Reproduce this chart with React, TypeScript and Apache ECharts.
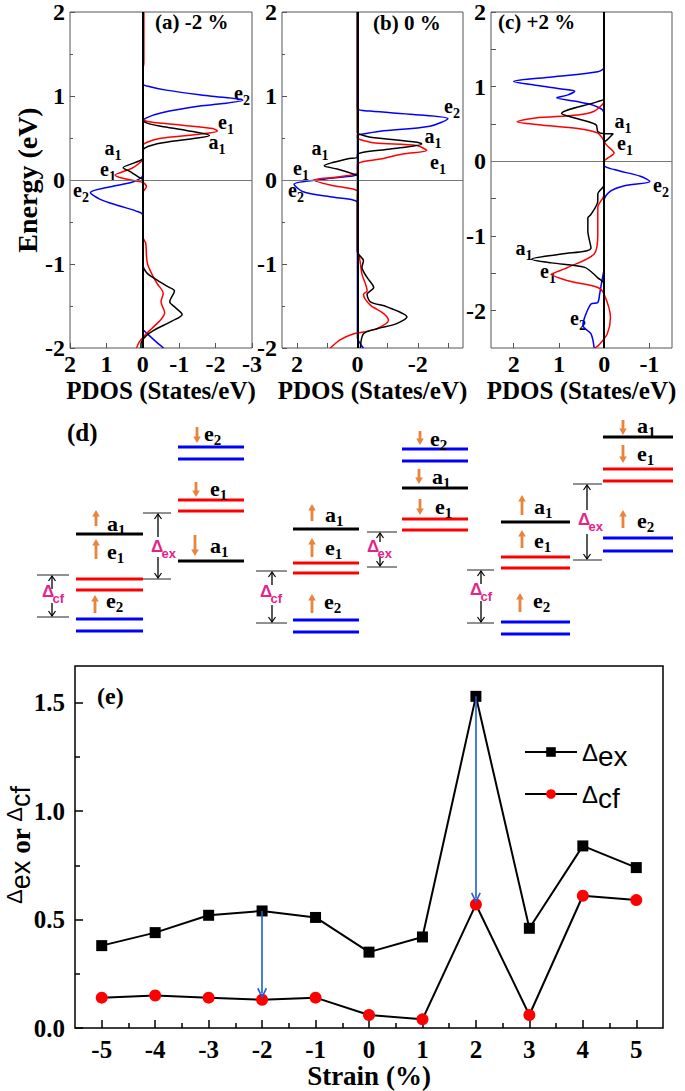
import React, { useEffect, useRef } from 'react';
import * as echarts from 'echarts';

const SERIF = 'Liberation Serif';
const SANS = 'Liberation Sans';
const BLUE = '#0000ff';
const RED = '#ff0000';
const BLACK = '#000000';
const ORANGE = '#e8843c';
const MAGENTA = '#e3238b';
const ARROW_BLUE = '#1a5fd6';
const FRAME = '#555555';

type P = [number, number];

// ---------- Panel (a): -2 % strain   [PDOS (states/eV), Energy (eV)]
const aBlue: P[] = [
  [0, 2.0], [0, 1.15], [-0.2, 1.11], [-0.64, 1.07], [-1.84, 1.0], [-2.75, 0.95], [-2.2, 0.91], [-1.56, 0.88], [-0.52, 0.8], [-0.1, 0.74], [0, 0.7],
  [0, 0.06], [0.26, -0.02], [0.89, -0.08], [1.44, -0.15], [1.17, -0.23], [0.63, -0.31], [0.18, -0.37], [0, -0.42],
  [0, -1.78], [-0.05, -1.8], [-0.3, -1.9], [-0.57, -2.0],
];
const aRed: P[] = [
  [-0.03, 2.0], [-0.03, 1.4], [0, 1.3], [0, 0.74], [-0.1, 0.7], [-0.83, 0.663], [-1.92, 0.612], [-2.05, 0.584], [-1.55, 0.545], [-0.46, 0.494], [-0.1, 0.447], [0, 0.408],
  [0, 0.25], [0.1, 0.2], [0.3, 0.14], [0.6, 0.09], [0.76, 0.06], [0.55, 0.02], [0.2, -0.01], [0, -0.03], [-0.1, -0.08], [0, -0.15],
  [0, -0.68], [-0.08, -0.75], [-0.1, -0.9], [-0.13, -1.0], [-0.25, -1.12], [-0.39, -1.23], [-0.56, -1.35], [-0.5, -1.45], [-0.6, -1.58], [-0.5, -1.66], [-0.24, -1.77], [-0.05, -1.85], [0.1, -1.93], [0.17, -2.0],
];
const aBlack: P[] = [
  [0, 2.0], [0, 0.72], [-0.1, 0.68], [-0.5, 0.64], [-1.2, 0.59], [-1.83, 0.53], [-1.5, 0.5], [-0.8, 0.46], [-0.3, 0.42], [-0.05, 0.38], [0, 0.34],
  [0, 0.26], [0.2, 0.21], [0.54, 0.145], [0.35, 0.1], [0.1, 0.03], [0, 0.0],
  [0, -1.0], [-0.1, -1.1], [-0.35, -1.18], [-0.69, -1.27], [-0.87, -1.32], [-0.74, -1.45], [-0.9, -1.52], [-1.08, -1.6], [-0.8, -1.68], [-0.3, -1.79], [-0.08, -1.86], [0.05, -1.95], [0.05, -2.0],
];

// ---------- Panel (b): 0 % strain
const bBlue: P[] = [
  [0, 2.0], [0, 0.85], [-0.43, 0.82], [-1.86, 0.78], [-3.0, 0.73], [-2.4, 0.64], [-0.76, 0.58], [-0.15, 0.545], [0, 0.53],
  [0, 0.07], [0.12, 0.05], [1.1, 0.01], [2.1, -0.05], [1.8, -0.14], [0.9, -0.2], [0.12, -0.24], [0, -0.27],
  [0, -1.88], [-0.1, -1.95], [-0.2, -2.0],
];
const bRed: P[] = [
  [0, 2.0], [0, 0.5], [-0.1, 0.48], [-0.6, 0.44], [-1.97, 0.41], [-2.3, 0.35], [-1.5, 0.31], [-0.76, 0.25], [-0.1, 0.21], [0, 0.18],
  [0, 0.09], [0.07, 0.07], [0.67, 0.035], [1.44, 0.0], [0.9, -0.06], [0.12, -0.11], [-0.02, -0.14], [0, -0.18],
  [0, -0.85], [-0.05, -0.89], [-0.1, -1.0], [-0.15, -1.12], [-0.32, -1.32], [-0.2, -1.36], [-0.43, -1.49], [-0.87, -1.59], [-1.03, -1.67], [-0.65, -1.77], [-0.2, -1.81], [0.12, -1.83], [0.56, -1.9], [0.9, -2.0],
];
const bBlack: P[] = [
  [0, 2.0], [0, 0.56], [-0.1, 0.54], [-0.43, 0.51], [-1.97, 0.45], [-2.13, 0.43], [-1.09, 0.37], [-0.2, 0.33], [0, 0.3],
  [0, 0.27], [0.34, 0.25], [1.1, 0.17], [0.67, 0.13], [0.12, 0.07], [0, 0.05],
  [0, -0.85], [-0.05, -0.89], [-0.2, -0.96], [-0.15, -1.04], [-0.32, -1.16], [-0.54, -1.28], [-0.32, -1.36], [-0.43, -1.45], [-0.98, -1.51], [-1.64, -1.63], [-1.3, -1.71], [-0.65, -1.77], [-0.2, -1.83], [-0.1, -2.0],
];

// ---------- Panel (c): +2 % strain
const cBlue: P[] = [
  [0, 2.0], [0, 1.26], [0.14, 1.2], [1.16, 1.13], [2.0, 1.07], [1.52, 1.02], [0.94, 0.97], [0.65, 0.94], [0.8, 0.89], [1.05, 0.85], [0.6, 0.8], [0.29, 0.76], [0.04, 0.69], [0, 0.6],
  [0, -0.05], [-0.22, -0.11], [-0.8, -0.2], [-1.01, -0.27], [-0.43, -0.33], [-0.14, -0.4], [0, -0.53],
  [0, -1.42], [0.05, -1.6], [0.1, -1.78], [0.14, -1.89], [0.29, -1.91], [0.43, -2.09], [0.47, -2.2], [0.29, -2.31], [0.22, -2.5],
];
const cRed: P[] = [
  [0, 2.0], [0, 0.8], [0.04, 0.76], [0.22, 0.67], [0.58, 0.62], [1.52, 0.58], [1.92, 0.53], [1.45, 0.49], [0.58, 0.44], [0.14, 0.38], [0.04, 0.31], [-0.05, 0.22], [-0.22, 0.11], [-0.07, 0.04], [0, 0.0],
  [0, -0.44], [0.14, -0.62], [0.14, -0.98], [0.22, -1.24], [0.8, -1.42], [1.09, -1.49], [1.16, -1.51], [0.8, -1.6], [0.14, -1.69], [0, -1.78], [-0.14, -2.09], [-0.07, -2.31], [0.1, -2.45], [0.2, -2.5],
];
const cBlack: P[] = [
  [0, 2.0], [0, 0.84], [0.14, 0.8], [0.94, 0.64], [0.65, 0.58], [0.18, 0.49], [0.14, 0.4], [0, 0.37], [-0.2, 0.37], [-0.07, 0.29], [0, 0.25],
  [0, -0.31], [0.14, -0.44], [0.14, -0.53], [0.29, -0.71], [0.36, -0.76], [0.36, -0.93], [0.29, -1.16], [0.94, -1.24], [1.6, -1.31], [1.16, -1.36], [0.43, -1.42], [0.14, -1.56], [0, -1.64], [0, -2.5],
];

// ---------- Panel (e)
const strain = [-5, -4, -3, -2, -1, 0, 1, 2, 3, 4, 5];
const deltaEx = [0.38, 0.44, 0.52, 0.54, 0.51, 0.35, 0.42, 1.53, 0.46, 0.84, 0.74];
const deltaCf = [0.14, 0.15, 0.14, 0.13, 0.14, 0.06, 0.04, 0.57, 0.06, 0.61, 0.59];
const strainMinor = [-4.5, -3.5, -2.5, -1.5, -0.5, 0.5, 1.5, 2.5, 3.5, 4.5];
const eTicks = [0, 0.5, 1.0, 1.5];
const eMinor = [0.25, 0.75, 1.25];

// ---------- helpers
const boldSerif = (size: number) => ({ fontFamily: SERIF, fontWeight: 'bold' as const, fontSize: size, color: '#000' });

const GLYPH_W: Record<string, number> = { a: 0.5, e: 0.444, 'Δ': 0.62 };

// main letter + subscript as two plain texts; (x,y) = left edge / glyph centre of main letter
function subPair(x: number, y: number, main: string, sub: string, size: number, subSize: number, color: string, family: string, subDy: number) {
  const w = (GLYPH_W[main] || 0.5) * size;
  return [
    { type: 'text', x, y: y - 2, silent: true, style: { text: main, align: 'left', verticalAlign: 'middle', fill: color, fontFamily: family, fontWeight: 'bold', fontSize: size } },
    { type: 'text', x: x + w, y: y + subDy, silent: true, style: { text: sub, align: 'left', verticalAlign: 'middle', fill: color, fontFamily: family, fontWeight: 'bold', fontSize: subSize } },
  ];
}
// centred curve label
function curveLabel(cx: number, cy: number, t: string) {
  const size = 20, subSize = 14;
  const total = (GLYPH_W[t[0]] || 0.5) * size + 0.5 * subSize;
  return subPair(cx - total / 2, cy - 2, t[0], t.slice(1), size, subSize, '#000', SERIF, 5);
}

function seg(x1: number, y1: number, x2: number, y2: number, color: string, w: number) {
  return { type: 'line', silent: true, shape: { x1, y1, x2, y2 }, style: { stroke: color, lineWidth: w } };
}
function orangeArrow(x: number, yTop: number, yBot: number, dir: string) {
  const hw = 1.4, hw2 = 3.8, hh = 6.5;
  const pts = dir === 'up'
    ? [[x - hw, yBot], [x + hw, yBot], [x + hw, yTop + hh], [x + hw2, yTop + hh], [x, yTop], [x - hw2, yTop + hh], [x - hw, yTop + hh]]
    : [[x - hw, yTop], [x + hw, yTop], [x + hw, yBot - hh], [x + hw2, yBot - hh], [x, yBot], [x - hw2, yBot - hh], [x - hw, yBot - hh]];
  return { type: 'polygon', silent: true, shape: { points: pts }, style: { fill: ORANGE } };
}

// level diagram (d): columns of levels, labels and brackets
const dLevels: [number, number, number, string][] = [
  [76, 143, 534, BLACK], [76, 143, 579, RED], [76, 143, 590, RED], [76, 143, 619, BLUE], [76, 143, 631, BLUE],
  [178, 244, 447, BLUE], [178, 244, 459, BLUE], [178, 244, 500, RED], [178, 244, 511, RED], [178, 244, 561, BLACK],
  [293, 359, 529, BLACK], [293, 359, 563, RED], [293, 359, 573, RED], [293, 359, 620, BLUE], [293, 359, 632, BLUE],
  [402, 468, 449, BLUE], [402, 468, 461, BLUE], [402, 468, 488, BLACK], [402, 468, 519, RED], [402, 468, 530, RED],
  [501, 570, 522, BLACK], [501, 570, 557, RED], [501, 570, 568, RED], [501, 570, 622, BLUE], [501, 570, 634, BLUE],
  [603, 673, 437, BLACK], [603, 673, 469, RED], [603, 673, 481, RED], [603, 673, 538, BLUE], [603, 673, 551, BLUE],
];
// [label, textX, textY, dir, arrowX, arrowTop, arrowBottom]
const dLabels: [string, number, number, string, number, number, number][] = [
  ['a1', 107, 525, 'up', 96, 510, 526], ['e1', 107, 553, 'up', 96, 539, 559], ['e2', 106, 602, 'up', 95, 595, 613],
  ['e2', 204, 435, 'down', 197, 427, 443], ['e1', 210, 490, 'down', 196, 482, 497], ['a1', 210, 547, 'down', 195, 535, 556],
  ['a1', 325, 516, 'up', 312, 504, 521], ['e1', 325, 549, 'up', 312, 538, 557], ['e2', 324, 603, 'up', 312, 594, 613],
  ['e2', 430, 440, 'down', 420, 431, 445], ['a1', 432, 478, 'down', 419, 469, 484], ['e1', 435, 508, 'down', 420, 499, 515],
  ['a1', 534, 508, 'up', 522, 495, 515], ['e1', 534, 542, 'up', 522, 530, 548], ['e2', 533, 602, 'up', 520, 593, 612],
  ['a1', 637, 427, 'down', 623, 420, 435], ['e1', 637, 455, 'down', 623, 445, 463], ['e2', 637, 522, 'up', 623, 510, 528],
];
// [x0, x1, yTop, yBottom, arrowX, upFrom, downFrom, textX, textY, sub]
const dBrackets: [number, number, number, number, number, number, number, number, number, string][] = [
  [37, 69, 575, 617, 52, 589, 603, 42, 593, 'cf'],
  [143, 171, 513, 579, 158, 537, 557, 151, 548, 'ex'],
  [256, 287, 571, 623, 272, 585, 605, 260, 593, 'cf'],
  [367, 397, 532, 567, 380, 542, 556, 367, 548, 'ex'],
  [467, 494, 570, 623, 481, 584, 601, 470, 591, 'cf'],
  [573, 602, 484, 560, 587, 510, 534, 578, 521, 'ex'],
];

function diagramElements() {
  const els: any[] = [];
  dLevels.forEach(([x0, x1, y, c]) => els.push(seg(x0, y, x1, y, c, 3)));
  dLabels.forEach(([t, tx, ty, dir, ax, a0, a1]) => {
    els.push(orangeArrow(ax, a0, a1, dir));
    els.push(...subPair(tx, ty, t[0], t.slice(1), 22, 15, '#000', SERIF, 5));
  });
  dBrackets.forEach(([x0, x1, y0, y1, ax, up, down, tx, ty, sub]) => {
    els.push(seg(x0, y0, x1, y0, '#222', 1));
    els.push(seg(x0, y1, x1, y1, '#222', 1));
    els.push(seg(ax, up, ax, y0 + 1, '#000', 1.3));
    els.push({ type: 'polyline', silent: true, shape: { points: [[ax - 3.5, y0 + 6], [ax, y0 + 1], [ax + 3.5, y0 + 6]] }, style: { stroke: '#000', lineWidth: 1.2, fill: 'none' } });
    els.push(seg(ax, down, ax, y1 - 1, '#000', 1.3));
    els.push({ type: 'polyline', silent: true, shape: { points: [[ax - 3.5, y1 - 6], [ax, y1 - 1], [ax + 3.5, y1 - 6]] }, style: { stroke: '#000', lineWidth: 1.2, fill: 'none' } });
    els.push(...subPair(tx, ty, 'Δ', sub, 17, 13, MAGENTA, SANS, 5));
  });
  els.push({ type: 'text', x: 67, y: 432, silent: true, style: { text: '(d)', align: 'left', verticalAlign: 'middle', fill: '#000', fontFamily: SERIF, fontWeight: 'bold', fontSize: 25 } });
  return els;
}

function pdosSeries(idx: number, blue: P[], red: P[], black: P[]) {
  const base = { type: 'line', xAxisIndex: idx, yAxisIndex: idx, showSymbol: false, symbol: 'none', smooth: 0.3, silent: true };
  return [
    { ...base, name: `blue${idx}`, data: blue, lineStyle: { color: BLUE, width: 1.5 }, z: 2 },
    { ...base, name: `red${idx}`, data: red, lineStyle: { color: RED, width: 1.5 }, z: 3 },
    {
      ...base, name: `black${idx}`, data: black, lineStyle: { color: BLACK, width: 1.5 }, z: 4,
      markLine: {
        silent: true, symbol: 'none', label: { show: false }, animation: false,
        data: [
          { yAxis: 0, lineStyle: { color: '#777', width: 1, type: 'solid' } },
          { xAxis: 0, lineStyle: { color: '#000', width: 2, type: 'solid' } },
        ],
      },
    },
  ];
}

const noLine = { show: false, onZero: false };
const tickStyle = { show: true, inside: true, length: 5, lineStyle: { color: FRAME, width: 1 } };
const pdosLabel = { ...boldSerif(24), margin: 4 };
const pdosName = {
  name: 'PDOS (States/eV)', nameLocation: 'middle', nameGap: 30,
  nameTextStyle: boldSerif(25),
};

const option: any = {
  animation: false,
  backgroundColor: '#ffffff',
  textStyle: { fontFamily: SERIF },
  grid: [
    { left: 70, top: 9, width: 182, height: 339, show: true, borderColor: FRAME, borderWidth: 1 },
    { left: 282, top: 9, width: 181, height: 339, show: true, borderColor: FRAME, borderWidth: 1 },
    { left: 491, top: 9, width: 181, height: 339, show: true, borderColor: FRAME, borderWidth: 1 },
    { left: 75, top: 666, width: 588, height: 362, show: true, borderColor: '#000', borderWidth: 1.5 },
  ],
  xAxis: [
    { gridIndex: 0, type: 'value', position: 'bottom', min: -3, max: 2, interval: 1, inverse: true, axisLine: noLine, splitLine: { show: false }, axisTick: tickStyle, axisLabel: pdosLabel, ...pdosName },
    { gridIndex: 1, type: 'value', position: 'bottom', min: -3.5, max: 2.5, inverse: true, axisLine: noLine, splitLine: { show: false }, axisTick: { ...tickStyle, customValues: [2, 1, 0, -1, -2, -3] }, axisLabel: { ...pdosLabel, customValues: [2, 0, -2] }, ...pdosName },
    { gridIndex: 2, type: 'value', position: 'bottom', min: -1.5, max: 2.5, inverse: true, axisLine: noLine, splitLine: { show: false }, axisTick: { ...tickStyle, customValues: [2, 1, 0, -1] }, axisLabel: { ...pdosLabel, customValues: [2, 1, 0, -1] }, ...pdosName },
    {
      gridIndex: 3, type: 'value', position: 'bottom', min: -5.5, max: 5.5, axisLine: noLine, splitLine: { show: false },
      axisTick: { show: true, inside: true, length: 8, customValues: strain, lineStyle: { color: '#000', width: 1.5 } },
      axisLabel: { ...boldSerif(25), margin: 9, customValues: strain },
      name: 'Strain (%)', nameLocation: 'middle', nameGap: 34, nameTextStyle: boldSerif(27),
    },
    {
      gridIndex: 3, type: 'value', position: 'bottom', min: -5.5, max: 5.5, axisLine: noLine, splitLine: { show: false },
      axisTick: { show: true, inside: true, length: 5, customValues: strainMinor, lineStyle: { color: '#000', width: 1.5 } },
      axisLabel: { show: false },
    },
  ],
  yAxis: [
    {
      gridIndex: 0, type: 'value', position: 'left', min: -2, max: 2, interval: 1, axisLine: noLine, splitLine: { show: false },
      axisTick: tickStyle, minorTick: { show: true, splitNumber: 2, length: 3, lineStyle: { color: FRAME } },
      axisLabel: { ...boldSerif(24), margin: 5 },
      name: 'Energy (eV)', nameLocation: 'middle', nameRotate: 90, nameGap: 22, nameTextStyle: boldSerif(28),
    },
    {
      gridIndex: 1, type: 'value', position: 'left', min: -2, max: 2, interval: 1, axisLine: noLine, splitLine: { show: false },
      axisTick: tickStyle, minorTick: { show: true, splitNumber: 2, length: 3, lineStyle: { color: FRAME } },
      axisLabel: { ...boldSerif(24), margin: 5 },
    },
    {
      gridIndex: 2, type: 'value', position: 'left', min: -2.5, max: 2.0, axisLine: noLine, splitLine: { show: false },
      axisTick: { ...tickStyle, customValues: [2, 1.5, 1, 0.5, 0, -0.5, -1, -1.5, -2] },
      axisLabel: { ...boldSerif(24), margin: 5, customValues: [2, 1, 0, -1, -2] },
    },
    {
      gridIndex: 3, type: 'value', position: 'left', min: 0, max: 1.67, axisLine: noLine, splitLine: { show: false },
      axisTick: { show: true, inside: true, length: 8, customValues: eTicks, lineStyle: { color: '#000', width: 1.5 } },
      axisLabel: { ...boldSerif(25), margin: 10, customValues: eTicks, formatter: (v: number) => Number(v).toFixed(1) },
    },
    {
      gridIndex: 3, type: 'value', position: 'left', min: 0, max: 1.67, axisLine: noLine, splitLine: { show: false },
      axisTick: { show: true, inside: true, length: 5, customValues: eMinor, lineStyle: { color: '#000', width: 1.5 } },
      axisLabel: { show: false },
    },
  ],
  legend: {
    left: 519, top: 735, orient: 'vertical', itemGap: 12, itemWidth: 52, itemHeight: 12, selectedMode: false,
    data: ['Δex', 'Δcf'],
    formatter: (name: string) => (name === 'Δex' ? '{d|Δ}{s|ex}' : '{d|Δ}{s|cf}'),
    textStyle: {
      rich: {
        d: { fontFamily: SANS, fontSize: 24, lineHeight: 36, verticalAlign: 'middle', color: '#000' },
        s: { fontFamily: SANS, fontSize: 28, lineHeight: 23, verticalAlign: 'bottom', color: '#000' },
      },
    },
  },
  series: [
    ...pdosSeries(0, aBlue, aRed, aBlack),
    ...pdosSeries(1, bBlue, bRed, bBlack),
    ...pdosSeries(2, cBlue, cRed, cBlack),
    {
      name: 'Δex', type: 'line', xAxisIndex: 3, yAxisIndex: 3, data: strain.map((s, i) => [s, deltaEx[i]]),
      symbol: 'rect', symbolSize: 11, itemStyle: { color: '#000' }, lineStyle: { color: '#000', width: 2 }, z: 3,
    },
    {
      name: 'Δcf', type: 'line', xAxisIndex: 3, yAxisIndex: 3, data: strain.map((s, i) => [s, deltaCf[i]]),
      symbol: 'circle', symbolSize: 12, itemStyle: { color: RED }, lineStyle: { color: '#000', width: 2 }, z: 4,
      markLine: {
        silent: true, animation: false, label: { show: false },
        symbol: ['none', 'path://M0,10 L5,0 L10,10 L8.6,10.8 L5,3.4 L1.4,10.8 Z'], symbolSize: [10, 11],
        lineStyle: { color: ARROW_BLUE, width: 1.6, type: 'solid' },
        data: [
          [{ coord: [strain[3], deltaEx[3]] }, { coord: [strain[3], deltaCf[3] + 0.03] }],
          [{ coord: [strain[7], deltaEx[7]] }, { coord: [strain[7], deltaCf[7] + 0.03] }],
        ],
      },
    },
  ],
  graphic: {
    elements: [
      { type: 'text', x: 155, y: 22, silent: true, style: { text: '(a) -2 %', align: 'left', verticalAlign: 'middle', fill: '#000', fontFamily: SERIF, fontWeight: 'bold', fontSize: 21 } },
      { type: 'text', x: 373, y: 23, silent: true, style: { text: '(b) 0 %', align: 'left', verticalAlign: 'middle', fill: '#000', fontFamily: SERIF, fontWeight: 'bold', fontSize: 21 } },
      { type: 'text', x: 498, y: 22, silent: true, style: { text: '(c) +2 %', align: 'left', verticalAlign: 'middle', fill: '#000', fontFamily: SERIF, fontWeight: 'bold', fontSize: 21 } },
      ...curveLabel(242, 97, 'e2'), ...curveLabel(226, 126, 'e1'), ...curveLabel(217, 146, 'a1'),
      ...curveLabel(113, 152, 'a1'), ...curveLabel(108, 173, 'e1'), ...curveLabel(81, 194, 'e2'),
      ...curveLabel(452, 110, 'e2'), ...curveLabel(433, 140, 'a1'), ...curveLabel(438, 166, 'e1'),
      ...curveLabel(320, 152, 'a1'), ...curveLabel(301, 172, 'e1'), ...curveLabel(296, 194, 'e2'),
      ...curveLabel(623, 125, 'a1'), ...curveLabel(625, 147, 'e1'), ...curveLabel(661, 189, 'e2'),
      ...curveLabel(524, 252, 'a1'), ...curveLabel(548, 275, 'e1'), ...curveLabel(578, 322, 'e2'),
      ...diagramElements(),
      { type: 'text', x: 97, y: 696, silent: true, style: { text: '(e)', align: 'left', verticalAlign: 'middle', fill: '#000', fontFamily: SERIF, fontWeight: 'bold', fontSize: 24 } },
      {
        type: 'text', x: 21, y: 845, rotation: Math.PI / 2, silent: true,
        style: {
          text: '{d|Δ}{s|ex}{o| or }{d|Δ}{s|cf}', align: 'center', verticalAlign: 'middle', fill: '#000',
          rich: {
            d: { fontFamily: SANS, fontSize: 22, lineHeight: 26, verticalAlign: 'top', fill: '#000' },
            s: { fontFamily: SANS, fontSize: 27, lineHeight: 36, fill: '#000' },
            o: { fontFamily: SERIF, fontWeight: 'bold', fontSize: 27, lineHeight: 36, fill: '#000' },
          },
        },
      },
    ],
  },
};

export default function App() {
  const ref = useRef<HTMLDivElement>(null);
  useEffect(() => {
    if (!ref.current) return;
    const chart = echarts.init(ref.current, null, { renderer: 'svg' });
    chart.setOption(option);
    return () => chart.dispose();
  }, []);
  return (
    <div
      ref={ref}
      style={{ position: 'absolute', left: 0, top: 0, width: 685, height: 1091, background: '#fff' }}
    />
  );
}
